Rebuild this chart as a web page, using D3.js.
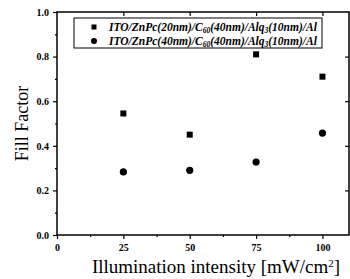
<!DOCTYPE html>
<html>
<head>
<meta charset="utf-8">
<script src="https://cdn.jsdelivr.net/npm/d3@7"></script>
<style>
  body { margin: 0; background: #fff; }
  svg { display: block; }
  text { font-family: 'Liberation Serif', 'DejaVu Serif', serif; }
</style>
</head>
<body>
<svg id="chart"></svg>
<script>
const width = 350, height = 279;
const margin = {"top": 12, "left": 57, "right": 1, "bottom": 44};

// data
const intensity = [25, 50, 75, 100];
const ff20 = [0.545, 0.45, 0.81, 0.71];
const ff40 = [0.283, 0.29, 0.327, 0.457];
const seriesNames = [
  ["ITO/ZnPc(20nm)/C", "60", "(40nm)/Alq", "3", "(10nm)/Al"],
  ["ITO/ZnPc(40nm)/C", "60", "(40nm)/Alq", "3", "(10nm)/Al"]
];
const xTicks = [0, 25, 50, 75, 100];
const yTicks = [0, 0.2, 0.4, 0.6, 0.8, 1.0];

const svg = d3.select("#chart")
  .attr("width", width)
  .attr("height", height);

const x = d3.scaleLinear().domain([0, 110]).range([margin.left, width - margin.right]);
const y = d3.scaleLinear().domain([0, 1]).range([height - margin.bottom, margin.top]);

// frame
svg.append("rect")
  .attr("x", margin.left)
  .attr("y", margin.top)
  .attr("width", width - margin.right - margin.left)
  .attr("height", height - margin.bottom - margin.top)
  .attr("fill", "none")
  .attr("stroke", "black")
  .attr("stroke-width", 1.5);

// bottom axis
const xAxis = svg.append("g")
  .attr("transform", `translate(0,${height - margin.bottom})`)
  .call(d3.axisBottom(x).tickValues(xTicks).tickSize(4).tickSizeOuter(0).tickFormat(d3.format("d")));
svg.append("g")
  .attr("transform", `translate(0,${height - margin.bottom})`)
  .call(d3.axisBottom(x).tickValues(d3.range(12.5, 110, 25)).tickSize(2).tickSizeOuter(0).tickFormat(""));

// left axis
const yAxis = svg.append("g")
  .attr("transform", `translate(${margin.left},0)`)
  .call(d3.axisLeft(y).tickValues(yTicks).tickSize(4).tickSizeOuter(0).tickFormat(d3.format(".1f")));
svg.append("g")
  .attr("transform", `translate(${margin.left},0)`)
  .call(d3.axisLeft(y).tickValues(d3.range(0.1, 1, 0.2)).tickSize(2).tickSizeOuter(0).tickFormat(""));

// mirrored ticks top / right
svg.append("g")
  .attr("transform", `translate(0,${margin.top})`)
  .call(d3.axisBottom(x).tickValues(xTicks.slice(1)).tickSize(4).tickSizeOuter(0).tickFormat(""));
svg.append("g")
  .attr("transform", `translate(${width - margin.right},0)`)
  .call(d3.axisLeft(y).tickValues(yTicks.slice(1, 5)).tickSize(4).tickSizeOuter(0).tickFormat(""));

svg.selectAll(".domain").remove();
svg.selectAll(".tick line").attr("stroke", "black").attr("stroke-width", 1.2);
xAxis.selectAll("text").attr("font-size", 10).attr("font-weight", "bold").attr("dy", "0.9em");
yAxis.selectAll("text").attr("font-size", 10).attr("font-weight", "bold").attr("dx", "-0.1em");

// axis titles
svg.append("text")
  .attr("x", 216)
  .attr("y", 273)
  .attr("text-anchor", "middle")
  .attr("font-size", 19)
  .text("Illumination intensity [mW/cm")
  .append("tspan").attr("baseline-shift", "super").attr("font-size", 11).text("2")
  .select(function(){ return this.parentNode; })
  .append("tspan").text("]");

svg.append("text")
  .attr("transform", `translate(28,${y(0.5)}) rotate(-90)`)
  .attr("text-anchor", "middle")
  .attr("font-size", 18)
  .text("Fill Factor");

// data marks
const sqSize = 6;
svg.append("g")
  .selectAll("rect")
  .data(intensity)
  .enter()
  .append("rect")
  .attr("x", (d) => x(d) - sqSize / 2)
  .attr("y", (d, i) => y(ff20[i]) - sqSize / 2)
  .attr("width", sqSize)
  .attr("height", sqSize)
  .attr("fill", "black");

svg.append("g")
  .selectAll("circle")
  .data(intensity)
  .enter()
  .append("circle")
  .attr("cx", (d) => x(d))
  .attr("cy", (d, i) => y(ff40[i]))
  .attr("r", 3.6)
  .attr("fill", "black");

// legend
const lg = svg.append("g");
lg.append("rect")
  .attr("x", 74)
  .attr("y", 18)
  .attr("width", 248)
  .attr("height", 30)
  .attr("fill", "white")
  .attr("stroke", "black")
  .attr("stroke-width", 1);
lg.append("rect")
  .attr("x", 94 - 2.5).attr("y", 27 - 2.5)
  .attr("width", 5).attr("height", 5)
  .attr("fill", "black");
lg.append("circle")
  .attr("cx", 94).attr("cy", 41)
  .attr("r", 3)
  .attr("fill", "black");
seriesNames.forEach((parts, k) => {
  const t = lg.append("text")
    .attr("x", 109)
    .attr("y", 31 + k * 14)
    .attr("font-size", 11.5)
    .attr("font-style", "italic")
    .attr("font-weight", "bold");
  parts.forEach((p, j) => {
    t.append("tspan")
      .attr("font-size", j % 2 ? 7.5 : 11.5)
      .attr("dy", j % 2 ? 2 : (j > 0 ? -2 : 0))
      .text(p);
  });
});
</script>
</body>
</html>
